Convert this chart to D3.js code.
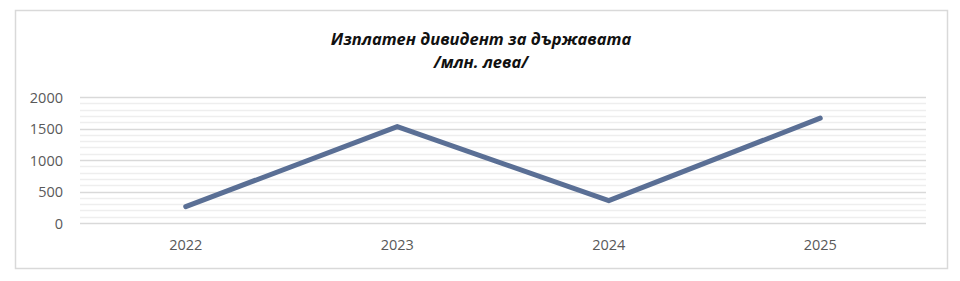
<!DOCTYPE html>
<html lang="bg">

<head>
	<meta charset="UTF-8">
	<title>Изплатен дивидент за държавата</title>
	<script src="https://d3js.org/d3.v7.min.js"></script>
	<style>
		body {
			margin: 0;
			background: #fff;
		}

		text {
			font-family: "Open Sans", sans-serif;
		}

		.title {
			font-weight: bold;
			font-style: italic;
			font-size: 16.5px;
			fill: #111;
		}

		.tick text {
			font-size: 14.5px;
			fill: #595959;
		}
	</style>
</head>

<body>
	<script>
		const width = 960;
		const height = 281;

		const years = ["2022", "2023", "2024", "2025"];
		const dividends = [260, 1530, 355, 1665];
		const yTicks = [0, 500, 1000, 1500, 2000];

		const margin = { top: 97, right: 34, bottom: 58, left: 80 };

		const svg = d3.select("body").append("svg")
			.attr("width", width)
			.attr("height", height);

		// chart border
		svg.append("rect")
			.attr("x", 15.5)
			.attr("y", 10.5)
			.attr("width", 932)
			.attr("height", 258)
			.attr("fill", "#fff")
			.attr("stroke", "#d9d9d9")
			.attr("stroke-width", 1.5);

		const x = d3.scaleBand()
			.domain(years)
			.range([margin.left, width - margin.right])
			.padding(0);

		const y = d3.scaleLinear()
			.domain([0, 2000])
			.range([height - margin.bottom, margin.top]);

		// minor gridlines every 100
		svg.append("g")
			.selectAll("line")
			.data(d3.range(100, 2000, 100).filter(v => v % 500 !== 0))
			.enter().append("line")
			.attr("x1", margin.left)
			.attr("x2", width - margin.right)
			.attr("y1", d => Math.round(y(d)) + 0.5)
			.attr("y2", d => Math.round(y(d)) + 0.5)
			.attr("stroke", "#eeeeee")
			.attr("stroke-width", 1.5);

		// major gridlines
		svg.append("g")
			.selectAll("line")
			.data(yTicks)
			.enter().append("line")
			.attr("x1", margin.left)
			.attr("x2", width - margin.right)
			.attr("y1", d => Math.round(y(d)) + 0.5)
			.attr("y2", d => Math.round(y(d)) + 0.5)
			.attr("stroke", "#d9d9d9")
			.attr("stroke-width", 1.5);

		const yAxis = svg.append("g")
			.attr("transform", `translate(${margin.left},0)`)
			.call(d3.axisLeft(y).tickValues(yTicks).tickFormat(d3.format("d")).tickSize(0).tickPadding(17));
		yAxis.select(".domain").remove();
		yAxis.selectAll("text").attr("dy", "0.36em");

		const xAxis = svg.append("g")
			.attr("transform", `translate(0,${height - margin.bottom})`)
			.call(d3.axisBottom(x).tickSize(0).tickPadding(17));
		xAxis.select(".domain").remove();

		const line = d3.line()
			.x((d, i) => x(years[i]) + x.bandwidth() / 2)
			.y(d => y(d));

		svg.append("path")
			.datum(dividends)
			.attr("d", line)
			.attr("fill", "none")
			.attr("stroke", "#5a6f95")
			.attr("stroke-width", 5)
			.attr("stroke-linejoin", "round")
			.attr("stroke-linecap", "round");

		// title
		const title = svg.append("text")
			.attr("class", "title")
			.attr("text-anchor", "middle")
			.attr("x", 481);
		title.append("tspan").attr("x", 481).attr("y", 45).text("Изплатен дивидент за държавата");
		title.append("tspan").attr("x", 481).attr("y", 68).text("/млн. лева/");
	</script>
</body>

</html>
